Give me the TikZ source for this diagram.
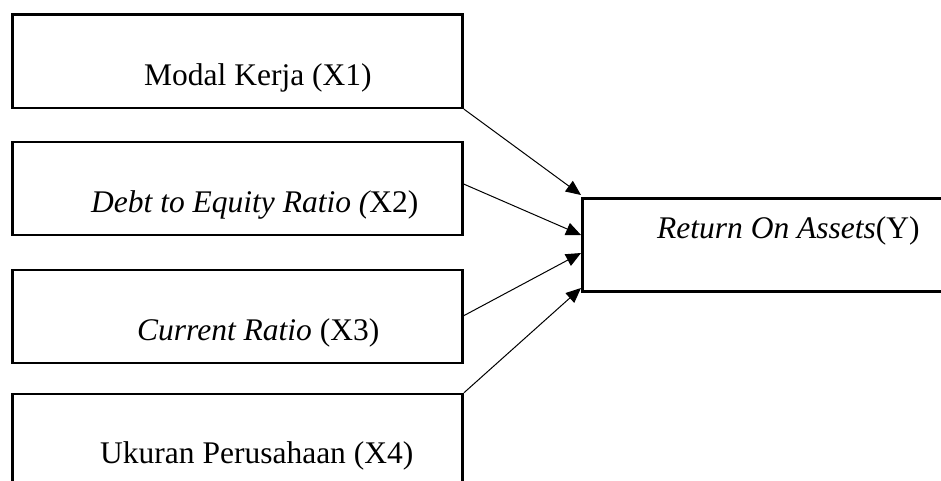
\documentclass[tikz,border=0pt]{standalone}
\usepackage{fontspec}
\setmainfont{Liberation Serif}[ItalicFont={Liberation Serif Italic},BoldFont={Liberation Serif Bold}]
\usetikzlibrary{arrows.meta}
\begin{document}
\begin{tikzpicture}[x=1pt,y=-1pt,
  boxstyle/.style={draw=black,line width=2.6pt,rectangle,inner sep=0pt,anchor=north west},
  txt/.style={anchor=base west,inner sep=0pt,font=\fontsize{31.5}{38}\selectfont},
  conn/.style={line width=1pt,-{Triangle[length=15pt,width=13pt]}}]
\useasboundingbox (0,0) rectangle (941,480);
\clip (0,0) rectangle (941,480);
\fill[white] (0,0) rectangle (941,480);
\node[boxstyle,minimum width=450pt,minimum height=93.2pt] (b1) at (11.3,13.3) {};
\node[boxstyle,minimum width=450pt,minimum height=93pt] (b2) at (11.3,140.5) {};
\node[boxstyle,minimum width=450pt,minimum height=93.1pt] (b3) at (11.3,268.7) {};
\node[boxstyle,minimum width=450pt,minimum height=120pt] (b4) at (11.3,392.8) {};
\node[boxstyle,minimum width=400pt,minimum height=93pt] (y) at (581.3,197.2) {};
\node[txt] (t1) at (144,85) {Modal Kerja (X1)};
\node[txt] (t2) at (91,212) {\itshape Debt to Equity Ratio (\upshape X2)};
\node[txt] (t3) at (137,340) {\itshape Current Ratio \upshape (X3)};
\node[txt] (t4) at (100,463) {Ukuran Perusahaan (X4)};
\node[txt] (ty) at (657,238) {\itshape Return On Assets\upshape (Y)};
\coordinate (s2) at (461.3,183);
\coordinate (s3) at (461.3,317);
\coordinate (e1) at (581,195);
\coordinate (e2) at (581,235);
\coordinate (e3) at (581,253);
\coordinate (e4) at (581,288);
\draw[conn] (b1.south east) -- (e1);
\draw[conn] (s2) -- (e2);
\draw[conn] (s3) -- (e3);
\draw[conn] (b4.north east) -- (e4);
\end{tikzpicture}
\end{document}
